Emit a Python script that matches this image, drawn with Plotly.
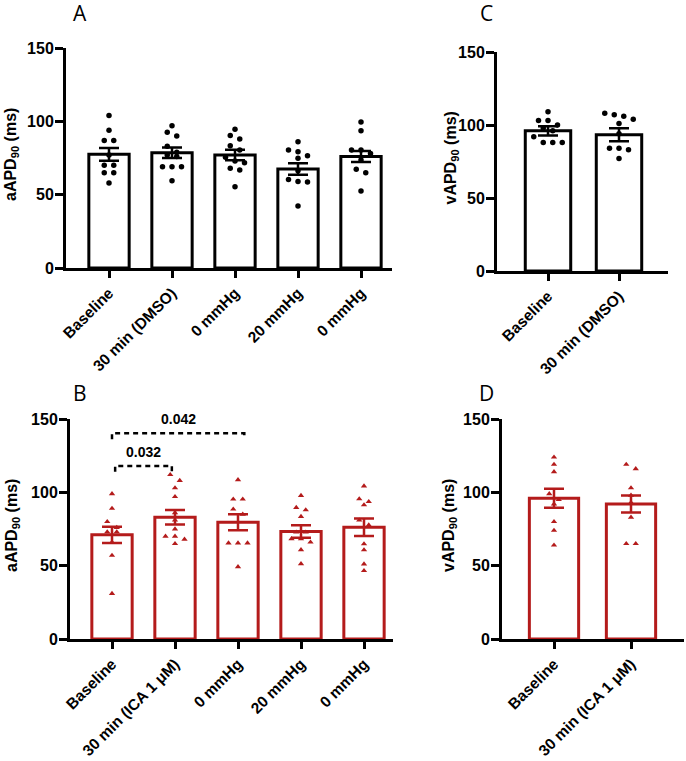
import plotly.graph_objects as go

W, H = 686, 761

# ---------------- data ----------------
cats_A = ["Baseline", "30 min (DMSO)", "0 mmHg", "20 mmHg", "0 mmHg"]
cats_C = ["Baseline", "30 min (DMSO)"]
cats_B = ["Baseline", "30 min (ICA 1 μM)", "0 mmHg", "20 mmHg", "0 mmHg"]
cats_D = ["Baseline", "30 min (ICA 1 μM)"]

mean_A = [77.5, 78.6, 77.0, 67.5, 76.0]
sem_A = [4.3, 3.6, 3.6, 4.0, 3.8]
pts_A = [
    [104, 94, 87, 87, 77, 70, 70, 65, 65, 58],
    [97, 92.5, 90, 83, 79, 77, 76, 69, 69, 69, 59.5],
    [94.6, 90.3, 88, 83.4, 80.5, 75.5, 73, 71.8, 68, 66.8, 55.4],
    [86, 80.5, 79.3, 76.6, 74.8, 66.3, 60.4, 59, 58.6, 42.2],
    [99.5, 93.6, 80.5, 80.5, 78, 73.6, 67.3, 65, 52.5],
]

mean_C = [96.0, 93.3]
sem_C = [3.2, 4.5]
pts_C = [
    [109, 103, 103, 100, 98, 96, 92, 88, 88, 88],
    [108, 107, 106, 104, 101, 94, 84, 84, 83, 77],
]

mean_B = [71.0, 83.0, 79.6, 73.3, 76.2]
sem_B = [5.5, 5.0, 5.5, 4.3, 6.0]
pts_B = [
    [99, 89, 80, 76, 73, 73, 66, 57, 31],
    [112, 108, 103, 97, 86, 81, 75, 70, 70, 68, 65],
    [108.5, 95.3, 95.3, 88.5, 85, 65.4, 65.4, 65.4, 49.2],
    [97.8, 89.6, 88, 83.5, 72.8, 72.8, 68.3, 68.3, 66, 60.8, 51.3],
    [104.3, 95.5, 93.6, 91.4, 81, 77.7, 64.8, 60.7, 51.1, 46.6],
]

mean_D = [96.0, 92.1]
sem_D = [6.5, 5.8]
pts_D = [
    [124, 119, 114, 99, 95, 92, 80, 74, 64],
    [119, 116, 103, 98, 93, 83, 65, 65],
]

# significance brackets in panel B: (left group, right group, height, p text)
brk_left = [0.05, 0.0]
brk_right = [0.95, 2.1]
brk_height = [118, 140.2]
brk_drop = [4, 4]
brk_text = ["0.032", "0.042"]

yticks = [0, 50, 100, 150]

BLACK = "#000000"
RED = "#B41B1B"
FONT = "Liberation Sans"


def px_x(p):
    return p / W


def px_y(p):
    return 1 - p / H


# panel geometry in page pixels
panels = {
    "A": dict(ax="", yaxpx=66, c0=109, dc=63, right=392, top=48, bot=268, tx=12),
    "C": dict(ax="2", yaxpx=497, c0=548, dc=71, right=668, top=52, bot=271, tx=451),
    "B": dict(ax="3", yaxpx=70, c0=112, dc=63, right=393, top=419, bot=639, tx=12),
    "D": dict(ax="4", yaxpx=502, c0=554, dc=77, right=684, top=419, bot=639, tx=449),
}


def swarm(vals, unit_px, cat_px, dpx=9.5, thr=6.0):
    s = sorted(vals, reverse=True)
    rows = []
    for v in s:
        if rows and (rows[-1][0] - v) * unit_px < thr:
            rows[-1].append(v)
        else:
            rows.append([v])
    xo, yo = [], []
    for r in rows:
        n = len(r)
        for i, v in enumerate(r):
            xo.append((i - (n - 1) / 2) * dpx / cat_px)
            yo.append(v)
    return xo, yo


fig = go.Figure()


def add_panel(key, cats, means, sems, pts, color, symbol, msize, ytitle):
    g = panels[key]
    ax = g["ax"]
    xref = "x" + ax
    yref = "y" + ax
    n = len(cats)
    xs = list(range(n))
    fig.add_trace(go.Bar(
        x=xs, y=means, width=0.64, xaxis=xref, yaxis=yref,
        marker=dict(color="white", line=dict(color=color, width=3)),
        error_y=dict(type="data", array=sems, visible=True, color=color,
                     thickness=2.5, width=10),
        showlegend=False, hoverinfo="skip",
    ))
    unit_px = (g["bot"] - g["top"]) / 150.0
    for i, vals in enumerate(pts):
        xo, yo = swarm(vals, unit_px, g["dc"])
        fig.add_trace(go.Scatter(
            x=[i + o for o in xo], y=yo, mode="markers", xaxis=xref, yaxis=yref,
            marker=dict(symbol=symbol, size=msize, color=color, line=dict(width=0)),
            showlegend=False, hoverinfo="skip", cliponaxis=False,
        ))
    xmin = (g["yaxpx"] - g["c0"]) / g["dc"]
    xmax = (g["right"] - g["c0"]) / g["dc"]
    fig.layout["xaxis" + ax] = dict(
        domain=[px_x(g["yaxpx"]), min(1.0, px_x(g["right"]))], range=[xmin, xmax],
        anchor=yref, tickmode="array", tickvals=xs, ticktext=cats,
        tickangle=-45, ticks="outside", ticklen=7, tickwidth=3, tickcolor=BLACK,
        showline=True, linewidth=3, linecolor=BLACK, showgrid=False, zeroline=False,
        tickfont=dict(family=FONT, size=15.5, color=BLACK, weight="bold"),
        automargin=False, fixedrange=True,
    )
    fig.layout["yaxis" + ax] = dict(
        domain=[px_y(g["bot"]), px_y(g["top"])], range=[0, 150],
        anchor=xref, tickmode="array", tickvals=yticks,
        ticks="outside", ticklen=8, tickwidth=3, tickcolor=BLACK,
        ticklabelstandoff=-2,
        showline=True, linewidth=3, linecolor=BLACK, showgrid=False, zeroline=False,
        tickfont=dict(family=FONT, size=16, color=BLACK, weight="bold"),
        automargin=False, fixedrange=True,
    )
    fig.add_annotation(
        x=px_x(g["tx"]), y=px_y((g["top"] + g["bot"]) / 2 - 3), xref="paper", yref="paper",
        text=ytitle, textangle=-90, showarrow=False, xanchor="center", yanchor="middle",
        font=dict(family=FONT, size=16, color=BLACK, weight="bold"),
    )


add_panel("A", cats_A, mean_A, sem_A, pts_A, BLACK, "circle", 5.5, "aAPD<sub>90</sub> (ms)")
add_panel("C", cats_C, mean_C, sem_C, pts_C, BLACK, "circle", 5.5, "vAPD<sub>90</sub> (ms)")
add_panel("B", cats_B, mean_B, sem_B, pts_B, RED, "triangle-up", 5.5, "aAPD<sub>90</sub> (ms)")
add_panel("D", cats_D, mean_D, sem_D, pts_D, RED, "triangle-up", 5.5, "vAPD<sub>90</sub> (ms)")

# brackets in panel B
for l, r, h, d, t in zip(brk_left, brk_right, brk_height, brk_drop, brk_text):
    fig.add_trace(go.Scatter(
        x=[l, l, r, r], y=[h - d, h, h, h - d], mode="lines", xaxis="x3", yaxis="y3",
        line=dict(color=BLACK, width=2.5, dash="5px,4px"),
        showlegend=False, hoverinfo="skip", cliponaxis=False,
    ))
    fig.add_annotation(
        x=(l + r) / 2, y=h + 3, xref="x3", yref="y3", text=t, showarrow=False,
        yanchor="bottom", font=dict(family=FONT, size=14, color=BLACK, weight="bold"),
    )

# panel letters
letters = ["A", "C", "B", "D"]
letter_pos = [(80, 13), (486, 13), (80, 393), (486, 393)]
for L, (lx, ly) in zip(letters, letter_pos):
    fig.add_annotation(
        x=px_x(lx), y=px_y(ly), xref="paper", yref="paper", text=L, showarrow=False,
        xanchor="center", yanchor="middle",
        font=dict(family="Open Sans", size=21, color=BLACK),
    )

fig.update_layout(
    width=W, height=H, margin=dict(l=0, r=0, t=0, b=0, autoexpand=False),
    paper_bgcolor="white", plot_bgcolor="white", bargap=0,
)

fig.write_html(
    "out.html",
    config={"displayModeBar": False, "staticPlot": True},
    post_script="document.body.style.margin='0';document.body.style.overflow='hidden';",
)
